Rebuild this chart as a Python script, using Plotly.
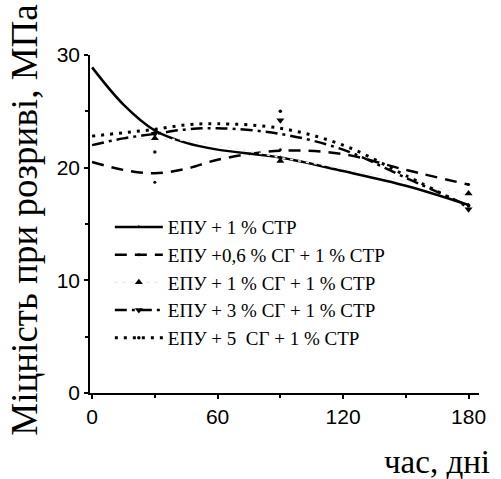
import plotly.graph_objects as go

# curve read-offs (days)
days_curve = [0, 15, 30, 45, 60, 90, 120, 150, 180]
s1_curve = [28.9, 25.6, 23.3, 22.2, 21.6, 20.9, 19.7, 18.4, 16.7]
s2_curve = [20.5, 19.8, 19.5, 19.9, 20.7, 21.5, 21.2, 19.8, 18.5]
s3_curve = [22.3, 22.5, 22.6, 22.4, 22.0, 20.9, 19.9, 18.8, 17.6]
s4_curve = [22.0, 22.6, 23.0, 23.4, 23.5, 23.0, 21.6, 19.1, 16.6]
s5_curve = [22.8, 23.1, 23.4, 23.8, 23.9, 23.5, 22.0, 19.3, 16.5]

# measured points
days_pts = [30, 90, 180]
s1_pts = [23.3, 20.9, 16.7]
s2_pts = [18.7, 21.6, 18.5]
s3_pts = [22.6, 20.6, 17.7]
s4_pts = [23.0, 24.2, 16.3]
s5_pts = [21.4, 25.0, 16.6]

names = ["ЕПУ + 1 % СТР", "ЕПУ +0,6 % СГ + 1 % СТР", "ЕПУ + 1 % СГ + 1 % СТР",
         "ЕПУ + 3 % СГ + 1 % СТР", "ЕПУ + 5  СГ + 1 % СТР"]

x_ticks = [0, 60, 120, 180]
y_ticks = [0, 10, 20, 30]

curves = [s1_curve, s2_curve, s3_curve, s4_curve, s5_curve]
points = [s1_pts, s2_pts, s3_pts, s4_pts, s5_pts]
styles = [
    dict(color="black", width=2.5, dash="solid"),
    dict(color="black", width=2.5, dash="12px,8px"),
    dict(color="#ececec", width=1.5, dash="3px,5px"),
    dict(color="black", width=2.5, dash="12px,5px,3px,5px"),
    dict(color="black", width=3, dash="3px,6px"),
]
markers = [
    dict(symbol="triangle-up", size=4, color="black"),
    dict(symbol="circle", size=3, color="black"),
    dict(symbol="triangle-up", size=7, color="black"),
    dict(symbol="triangle-down", size=7, color="black"),
    dict(symbol="circle", size=3.5, color="black"),
]

fig = go.Figure()
for i in range(5):
    fig.add_trace(go.Scatter(x=days_curve, y=curves[i], mode="lines",
                             line=dict(**styles[i], shape="spline", smoothing=1.0),
                             showlegend=False, legendgroup=str(i), hoverinfo="skip"))
    fig.add_trace(go.Scatter(x=days_pts, y=points[i], mode="markers",
                             marker=markers[i], showlegend=False, legendgroup=str(i)))
    fig.add_trace(go.Scatter(x=[None], y=[None], mode="lines+markers", name=names[i],
                             line=styles[i], marker=markers[i], legendgroup=str(i)))

axis_common = dict(showline=True, linecolor="black", linewidth=1.5, ticks="outside",
                   ticklen=4, tickwidth=1.5, tickcolor="black", showgrid=False,
                   zeroline=False, mirror=False,
                   tickfont=dict(family="Liberation Sans, Arial", size=21, color="black"))

fig.update_layout(
    width=501, height=479,
    margin=dict(l=90, r=22, t=55, b=86),
    paper_bgcolor="white", plot_bgcolor="white",
    xaxis=dict(range=[-1, 185], tickvals=x_ticks,
               minor=dict(tickvals=[30, 90, 150], ticklen=3, tickwidth=1.5, tickcolor="black", ticks="outside"),
               **axis_common),
    yaxis=dict(range=[0, 30], tickvals=y_ticks,
               minor=dict(tickvals=[5, 15, 25], ticklen=3, tickwidth=1.5, tickcolor="black", ticks="outside"),
               **axis_common),
    legend=dict(x=0.051, y=0.547, xanchor="left", yanchor="top", bgcolor="rgba(0,0,0,0)",
                font=dict(family="Liberation Serif, Times New Roman", size=19, color="black"),
                itemwidth=48, tracegroupgap=0, traceorder="normal"),
    annotations=[
        dict(text="Міцність при розриві, МПа", xref="paper", yref="paper", x=-0.167, y=0.51,
             textangle=-90, showarrow=False, xanchor="center", yanchor="middle",
             font=dict(family="Liberation Serif, Times New Roman", size=37, color="black")),
        dict(text="час, дні", xref="paper", yref="paper", x=0.892, y=-0.205,
             showarrow=False, xanchor="center", yanchor="middle",
             font=dict(family="Liberation Serif, Times New Roman", size=33, color="black")),
    ],
)

fig.write_html("out.html", config={"displayModeBar": False},
               post_script="document.body.style.margin='0';document.body.style.padding='0';")
